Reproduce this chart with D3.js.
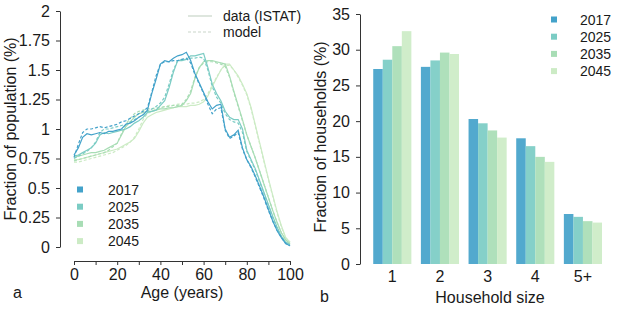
<!DOCTYPE html>
<html>
<head>
<meta charset="utf-8">
<script src="https://cdn.jsdelivr.net/npm/d3@7"></script>
<style>
  body { margin: 0; background: #fff; }
  svg { font-family: "Liberation Sans", Arial, sans-serif; }
  .axis text { font-size: 16px; fill: #1a1a1a; }
  .axis path, .axis line { stroke: #333; }
</style>
</head>
<body>
<svg id="chart" width="617" height="309"></svg>
<script>
// ---- data ----
var years = ["2017", "2025", "2035", "2045"];
var colors = ["#43a2ca", "#7bccc4", "#a8ddb5", "#ccebc5"];

// panel a: age distribution (% of population), every 2 years of age
var ages = [0, 2, 4, 6, 8, 10, 12, 14, 16, 18, 20, 22, 24, 26, 28, 30, 32, 34, 36, 38,
  40, 42, 44, 46, 48, 50, 52, 54, 56, 58, 60, 62, 64, 66, 68, 70, 72, 74, 76, 78,
  80, 82, 84, 86, 88, 90, 92, 94, 96, 98, 100];

var data2017 = [0.78, 0.84, 0.93, 0.96, 0.95, 0.96, 0.97, 0.96, 0.98, 0.98,
  0.99, 1.00, 1.04, 1.05, 1.07, 1.10, 1.12, 1.16, 1.30, 1.42,
  1.55, 1.58, 1.57, 1.60, 1.62, 1.63, 1.65, 1.58, 1.47, 1.39,
  1.31, 1.23, 1.17, 1.20, 1.21, 1.00, 0.93, 0.95, 0.99, 0.84,
  0.74, 0.68, 0.60, 0.51, 0.42, 0.32, 0.22, 0.14, 0.08, 0.03, 0.01];
var model2017 = [0.76, 0.87, 0.97, 1.00, 1.00, 1.01, 1.02, 1.01, 1.02, 1.03,
  1.04, 1.06, 1.07, 1.09, 1.11, 1.13, 1.15, 1.18, 1.31, 1.45,
  1.55, 1.57, 1.57, 1.58, 1.58, 1.59, 1.60, 1.56, 1.46, 1.38,
  1.30, 1.21, 1.13, 1.17, 1.18, 0.99, 0.92, 0.94, 0.97, 0.83,
  0.74, 0.67, 0.59, 0.50, 0.41, 0.31, 0.22, 0.14, 0.08, 0.03, 0.01];

var data2025 = [0.77, 0.78, 0.80, 0.82, 0.84, 0.88, 0.95, 0.97, 0.96, 0.97,
  0.98, 0.99, 1.00, 1.02, 1.05, 1.07, 1.10, 1.14, 1.15, 1.16,
  1.20, 1.24, 1.35, 1.48, 1.58, 1.58, 1.59, 1.62, 1.62, 1.63,
  1.64, 1.52, 1.38, 1.30, 1.24, 1.15, 1.10, 1.08, 1.08, 1.00,
  0.82, 0.74, 0.66, 0.56, 0.46, 0.36, 0.26, 0.17, 0.09, 0.04, 0.02];
var model2025 = [0.75, 0.77, 0.79, 0.81, 0.84, 0.89, 0.97, 1.00, 1.00, 1.01,
  1.02, 1.03, 1.04, 1.06, 1.08, 1.10, 1.12, 1.15, 1.17, 1.19,
  1.22, 1.27, 1.38, 1.50, 1.58, 1.59, 1.59, 1.60, 1.60, 1.61,
  1.60, 1.50, 1.36, 1.27, 1.22, 1.13, 1.08, 1.06, 1.05, 0.97,
  0.81, 0.73, 0.65, 0.55, 0.45, 0.35, 0.25, 0.16, 0.09, 0.04, 0.02];

var data2035 = [0.76, 0.77, 0.78, 0.79, 0.80, 0.80, 0.81, 0.82, 0.84, 0.86,
  0.88, 0.95, 1.02, 1.06, 1.10, 1.13, 1.14, 1.15, 1.15, 1.16,
  1.17, 1.17, 1.18, 1.18, 1.19, 1.20, 1.24, 1.30, 1.43, 1.52,
  1.57, 1.58, 1.58, 1.57, 1.56, 1.55, 1.45, 1.32, 1.20, 1.08,
  0.95, 0.85, 0.75, 0.64, 0.53, 0.42, 0.31, 0.21, 0.12, 0.06, 0.03];
var model2035 = [0.73, 0.74, 0.75, 0.76, 0.77, 0.78, 0.79, 0.80, 0.82, 0.85,
  0.88, 0.96, 1.04, 1.09, 1.13, 1.15, 1.16, 1.17, 1.17, 1.18,
  1.18, 1.19, 1.19, 1.20, 1.20, 1.21, 1.25, 1.32, 1.44, 1.52,
  1.56, 1.57, 1.57, 1.56, 1.55, 1.53, 1.44, 1.31, 1.19, 1.07,
  0.95, 0.85, 0.75, 0.64, 0.53, 0.42, 0.31, 0.21, 0.12, 0.06, 0.03];

var data2045 = [0.74, 0.74, 0.75, 0.76, 0.77, 0.78, 0.79, 0.80, 0.81, 0.82,
  0.83, 0.85, 0.87, 0.89, 0.92, 0.98, 1.05, 1.10, 1.12, 1.14,
  1.15, 1.16, 1.17, 1.18, 1.19, 1.19, 1.19, 1.20, 1.20, 1.21,
  1.23, 1.28, 1.36, 1.43, 1.50, 1.55, 1.55, 1.50, 1.45, 1.38,
  1.30, 1.18, 1.03, 0.88, 0.73, 0.58, 0.44, 0.30, 0.18, 0.08, 0.04];
var model2045 = [0.72, 0.72, 0.73, 0.74, 0.75, 0.76, 0.77, 0.78, 0.79, 0.80,
  0.82, 0.84, 0.86, 0.89, 0.93, 1.00, 1.08, 1.13, 1.15, 1.17,
  1.18, 1.19, 1.20, 1.20, 1.21, 1.21, 1.21, 1.22, 1.22, 1.23,
  1.25, 1.30, 1.37, 1.44, 1.50, 1.54, 1.54, 1.50, 1.44, 1.37,
  1.29, 1.17, 1.02, 0.87, 0.72, 0.57, 0.43, 0.29, 0.17, 0.08, 0.04];

var ageTicks = [0, 10, 20, 30, 40, 50, 60, 70, 80, 90, 100];
var popTicks = [0, 0.25, 0.5, 0.75, 1, 1.25, 1.5, 1.75, 2];

// panel b: household size distribution (%)
var sizes = ["1", "2", "3", "4", "5+"];
var hh2017 = [27.3, 27.6, 20.3, 17.6, 7.0];
var hh2025 = [28.6, 28.5, 19.7, 16.5, 6.6];
var hh2035 = [30.5, 29.6, 18.7, 15.0, 6.0];
var hh2045 = [32.6, 29.4, 17.7, 14.3, 5.8];
var hhTicks = [0, 5, 10, 15, 20, 25, 30, 35];

var dataSeries = [data2017, data2025, data2035, data2045];
var modelSeries = [model2017, model2025, model2035, model2045];
var hhSeries = [hh2017, hh2025, hh2035, hh2045];

var svg = d3.select("#chart");

// ================= panel a =================
var xAge = d3.scaleLinear().domain([0, 100]).range([74, 290]);
var yPop = d3.scaleLinear().domain([0, 2]).range([247, 11]);

svg.append("g")
    .attr("class", "axis")
    .attr("transform", "translate(60,0)")
    .call(d3.axisLeft(yPop).tickValues(popTicks).tickSize(4).tickPadding(6).tickSizeOuter(0)
        .tickFormat(d => d3.format("~g")(d)));

svg.append("g")
    .attr("class", "axis")
    .attr("transform", "translate(0,261)")
    .call(d3.axisBottom(xAge).tickValues(ageTicks).tickSize(4).tickPadding(4).tickSizeOuter(0)
        .tickFormat(d => d % 20 === 0 ? d : ""));

var line = d3.line()
    .x((d, i) => xAge(ages[i]))
    .y(d => yPop(d));

// draw lighter years first so the dark blue sits on top
for (var k = years.length - 1; k >= 0; k--) {
    svg.append("path")
        .attr("d", line(modelSeries[k]))
        .attr("fill", "none")
        .attr("stroke", colors[k])
        .attr("stroke-width", 1.2)
        .attr("stroke-dasharray", "3,2");
    svg.append("path")
        .attr("d", line(dataSeries[k]))
        .attr("fill", "none")
        .attr("stroke", colors[k])
        .attr("stroke-width", 1.2);
}

// legend: data vs model
svg.append("line").attr("x1", 188).attr("x2", 212).attr("y1", 16).attr("y2", 16)
    .attr("stroke", "#c9d6c9").attr("stroke-width", 1.2);
svg.append("line").attr("x1", 188).attr("x2", 212).attr("y1", 32).attr("y2", 32)
    .attr("stroke", "#c9d6c9").attr("stroke-width", 1.2).attr("stroke-dasharray", "3,2");
svg.append("text").attr("x", 223).attr("y", 21).style("font-size", "14px").attr("fill", "#1a1a1a")
    .text("data (ISTAT)");
svg.append("text").attr("x", 223).attr("y", 37).style("font-size", "14px").attr("fill", "#1a1a1a")
    .text("model");

// legend: years (panel a)
years.forEach(function(y, i) {
    var cy = 189.5 + i * 17.2;
    svg.append("rect").attr("x", 77).attr("y", cy - 3).attr("width", 6).attr("height", 6)
        .attr("fill", colors[i]);
    svg.append("text").attr("x", 108).attr("y", cy + 5).style("font-size", "14px")
        .attr("fill", "#1a1a1a").text(y);
});

svg.append("text")
    .attr("transform", "translate(16,129) rotate(-90)")
    .attr("text-anchor", "middle")
    .style("font-size", "16px")
    .attr("fill", "#1a1a1a")
    .text("Fraction of population (%)");

svg.append("text")
    .attr("x", 182).attr("y", 298)
    .attr("text-anchor", "middle")
    .style("font-size", "16px")
    .attr("fill", "#1a1a1a")
    .text("Age (years)");

svg.append("text").attr("x", 13).attr("y", 298).style("font-size", "16px")
    .attr("fill", "#1a1a1a").text("a");

// ================= panel b =================
var xSize = d3.scaleBand().domain(sizes).range([363.7, 602])
    .paddingInner(0.2).paddingOuter(0.1).align(1);
var xYear = d3.scaleBand().domain(years).range([0, xSize.bandwidth()]);
var yHH = d3.scaleLinear().domain([0, 35]).range([264, 14]);

svg.append("g")
    .attr("class", "axis")
    .attr("transform", "translate(360,0)")
    .call(d3.axisLeft(yHH).tickValues(hhTicks).tickSize(4).tickPadding(6).tickSizeOuter(0));

var xAxisB = svg.append("g")
    .attr("class", "axis")
    .attr("transform", "translate(0,264)")
    .call(d3.axisBottom(xSize).tickSize(0).tickPadding(7));
xAxisB.select(".domain").remove();

var groups = svg.selectAll(".hhgroup")
    .data(sizes)
    .enter().append("g")
    .attr("class", "hhgroup")
    .attr("transform", d => "translate(" + xSize(d) + ",0)");

groups.selectAll("rect")
    .data((d, gi) => years.map((y, k) => ({ year: y, k: k, value: hhSeries[k][gi] })))
    .enter().append("rect")
    .attr("x", d => xYear(d.year))
    .attr("y", d => yHH(d.value))
    .attr("width", xYear.bandwidth())
    .attr("height", d => yHH(0) - yHH(d.value))
    .attr("fill", d => colors[d.k])
    .attr("fill-opacity", 0.92);

// legend: years (panel b)
years.forEach(function(y, i) {
    var cy = 19.5 + i * 17.2;
    svg.append("rect").attr("x", 551).attr("y", cy - 3).attr("width", 6).attr("height", 6)
        .attr("fill", colors[i]);
    svg.append("text").attr("x", 580).attr("y", cy + 5).style("font-size", "14px")
        .attr("fill", "#1a1a1a").text(y);
});

svg.append("text")
    .attr("transform", "translate(326,137) rotate(-90)")
    .attr("text-anchor", "middle")
    .style("font-size", "16px")
    .attr("fill", "#1a1a1a")
    .text("Fraction of households (%)");

svg.append("text")
    .attr("x", 490).attr("y", 303)
    .attr("text-anchor", "middle")
    .style("font-size", "16px")
    .attr("fill", "#1a1a1a")
    .text("Household size");

svg.append("text").attr("x", 320).attr("y", 302).style("font-size", "16px")
    .attr("fill", "#1a1a1a").text("b");
</script>
</body>
</html>
